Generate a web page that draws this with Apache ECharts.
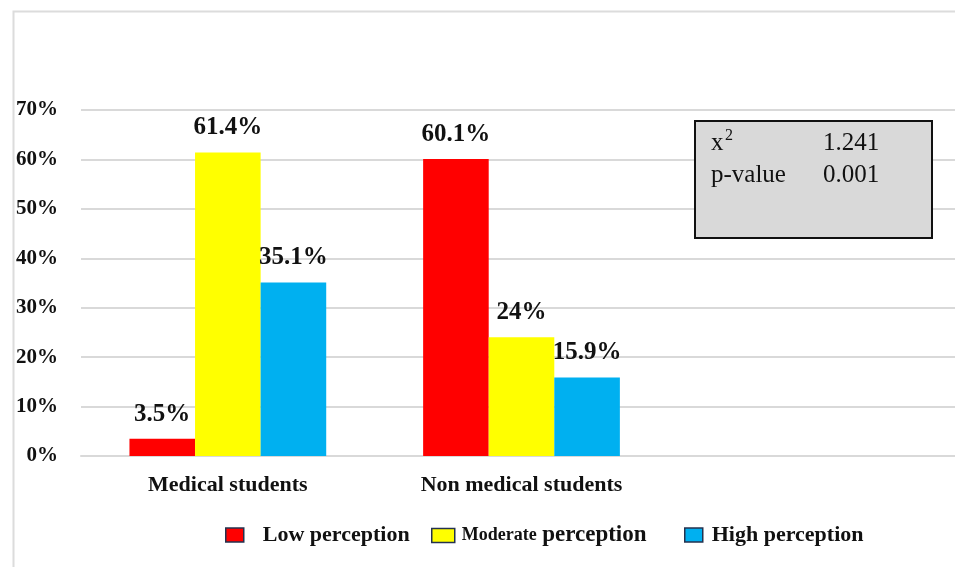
<!DOCTYPE html>
<html>
<head>
<meta charset="utf-8">
<script src="https://cdn.jsdelivr.net/npm/echarts@6/dist/echarts.min.js"></script>
<style>
html,body{margin:0;padding:0;background:#fff;overflow:hidden;}
#chart{width:962px;height:567px;}
</style>
</head>
<body>
<div id="chart"></div>
<script>
var categories = ['Medical students', 'Non medical students', ''];
var lowPerception = [3.5, 60.1];
var moderatePerception = [61.4, 24];
var highPerception = [35.1, 15.9];
var valueLabels = {
  low: ['3.5%', '60.1%'],
  moderate: ['61.4%', '24%'],
  high: ['35.1%', '15.9%']
};
var yTicks = [0, 10, 20, 30, 40, 50, 60, 70];
var seriesNames = ['Low perception', 'Moderate perception', 'High perception'];
var statsRows = [['x\u00B2', '1.241'], ['p-value', '0.001']];

var FONT = '"Liberation Serif", "Times New Roman", serif';
var chart = echarts.init(document.getElementById('chart'));

function mkLabel(texts) {
  return {
    show: true,
    position: 'top',
    distance: 12,
    fontFamily: FONT,
    fontWeight: 'bold',
    fontSize: 25,
    color: '#111',
    formatter: function (p) { return texts[p.dataIndex]; }
  };
}

function mkLegend(name, left, iconW, textExtra) {
  return {
    data: [name],
    left: left,
    top: 524,
    padding: 0,
    icon: 'rect',
    itemWidth: iconW,
    itemHeight: 14,
    itemGap: 0,
    itemStyle: { borderColor: '#24324f', borderWidth: 1.5 },
    textStyle: Object.assign({ fontFamily: FONT, fontWeight: 'bold', fontSize: 22, color: '#111' }, textExtra || {}),
    selectedMode: false
  };
}

var legendModerate = mkLegend(seriesNames[1], 431, 23, {
  padding: [0, 0, 0, 2],
  rich: {
    s: { fontFamily: FONT, fontWeight: 'bold', fontSize: 18, color: '#111' },
    b: { fontFamily: FONT, fontWeight: 'bold', fontSize: 23, color: '#111' }
  }
});
legendModerate.formatter = function () { return '{s|Moderate} {b|perception}'; };

var option = {
  backgroundColor: '#fff',
  animation: false,
  grid: { left: 81, right: 0, top: 110, bottom: 111, containLabel: false },
  xAxis: {
    type: 'category',
    data: categories,
    axisLine: { show: true, lineStyle: { color: '#d9d9d9', width: 2 } },
    axisTick: { show: false },
    axisLabel: {
      fontFamily: FONT, fontWeight: 'bold', fontSize: 22, color: '#111', margin: 18
    }
  },
  yAxis: {
    type: 'value',
    min: 0, max: 70, interval: 10,
    axisLine: { show: false },
    axisTick: { show: false },
    splitLine: { lineStyle: { color: '#d9d9d9', width: 2 } },
    axisLabel: {
      fontFamily: FONT, fontWeight: 'bold', fontSize: 21, color: '#111', margin: 23,
      formatter: function (v) { return yTicks.indexOf(v) >= 0 ? v + '%' : ''; }
    }
  },
  legend: [
    mkLegend(seriesNames[0], 225, 18, { padding: [0, 0, 0, 14] }),
    legendModerate,
    mkLegend(seriesNames[2], 684, 18, { padding: [0, 0, 0, 4] })
  ],
  series: [
    { name: seriesNames[0], type: 'bar', data: lowPerception, barGap: '0%', barCategoryGap: '33%',
      itemStyle: { color: '#ff0000' }, label: mkLabel(valueLabels.low) },
    { name: seriesNames[1], type: 'bar', data: moderatePerception, barGap: '0%', barCategoryGap: '33%',
      itemStyle: { color: '#ffff00' }, label: mkLabel(valueLabels.moderate) },
    { name: seriesNames[2], type: 'bar', data: highPerception, barGap: '0%', barCategoryGap: '33%',
      itemStyle: { color: '#00b0f0' }, label: mkLabel(valueLabels.high) }
  ],
  graphic: [
    { type: 'rect', left: 11, top: 9, shape: { width: 960, height: 580 },
      style: { fill: 'none', stroke: '#dcdcdc', lineWidth: 2 }, silent: true, z: -1 },
    { type: 'rect', left: 694, top: 120, shape: { width: 237, height: 117 },
      style: { fill: '#d9d9d9', stroke: '#111', lineWidth: 2 }, z: 10 },
    { type: 'text', left: 711, top: 131, z: 11,
      style: { text: 'x', font: '25px ' + FONT, fill: '#111' } },
    { type: 'text', left: 725, top: 128, z: 11,
      style: { text: '2', font: '16px ' + FONT, fill: '#111' } },
    { type: 'text', left: 823, top: 131, z: 11,
      style: { text: statsRows[0][1], font: '25px ' + FONT, fill: '#111' } },
    { type: 'text', left: 711, top: 163, z: 11,
      style: { text: statsRows[1][0], font: '25px ' + FONT, fill: '#111' } },
    { type: 'text', left: 823, top: 163, z: 11,
      style: { text: statsRows[1][1], font: '25px ' + FONT, fill: '#111' } }
  ]
};
chart.setOption(option);
</script>
</body>
</html>
